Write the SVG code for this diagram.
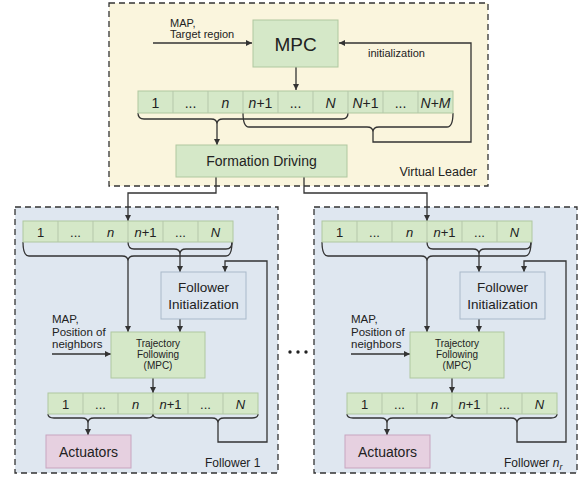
<svg xmlns="http://www.w3.org/2000/svg" width="579" height="479" viewBox="0 0 579 479">
<style>
text{font-family:"Liberation Sans",Arial,sans-serif;fill:#222}
.cont{stroke:#333;stroke-width:1.3;stroke-dasharray:6 4}
.green{fill:#d5e8c8;stroke:#afc8a0;stroke-width:1}
.sep{stroke:#b5c7aa;stroke-width:1}
.fi{fill:#dce5ef;stroke:#a9b9ca;stroke-width:1}
.act{fill:#e6d0e0;stroke:#c8a5bf;stroke-width:1}
.ln{fill:none;stroke:#333;stroke-width:1.3}
.arr{fill:none;stroke:#333;stroke-width:1.3;marker-end:url(#ah)}
.cell{font-size:14px;text-anchor:middle}
.cellf{font-size:13px;text-anchor:middle}
.it{font-style:italic}
.c{text-anchor:middle}
</style>
<defs>
<marker id="ah" viewBox="0 0 10 10" refX="10" refY="5" markerWidth="6" markerHeight="6" markerUnits="userSpaceOnUse" orient="auto">
<path d="M0 0 L10 5 L0 10 Z" fill="#333"/>
</marker>
</defs>

<!-- Virtual leader container -->
<g id="virtual-leader">
<rect class="cont" x="109" y="3" width="379" height="183" fill="#faf5dd"/>
<text x="477" y="176" font-size="12.5" text-anchor="end">Virtual Leader</text>
</g>

<!-- Followers containers -->
<g id="follower-1">
<rect class="cont" x="15" y="207" width="263" height="266" fill="#dfe7f0"/>
<text x="205" y="467" font-size="12">Follower 1</text>
</g>
<g id="follower-nr">
<rect class="cont" x="314" y="207" width="263" height="266" fill="#dfe7f0"/>
<text x="504" y="467" font-size="12">Follower <tspan class="it">n</tspan><tspan class="it" font-size="9" dy="3">r</tspan></text>
</g>

<g id="dots">
<circle cx="290" cy="352" r="1.7" fill="#222"/>
<circle cx="298" cy="352" r="1.7" fill="#222"/>
<circle cx="306" cy="352" r="1.7" fill="#222"/>
</g>

<!-- Connectors -->
<g id="connectors">
<path class="arr" d="M153 43 H252"/>
<path class="arr" d="M296 67 V90"/>
<path class="ln" d="M138 113 Q138 119 144 119 H211 Q217 119 217 124 Q217 119 223 119 H342 Q348 119 348 113"/>
<path class="arr" d="M217 124 V145"/>
<path class="ln" d="M243 113 Q243 127 249 127 H367 Q373 127 373 132 Q373 127 379 127 H447 Q453 127 453 113"/>
<path class="arr" d="M373 132 V142 H471 V43 H339"/>
<path class="arr" d="M216 177 V193 H128 V221"/>
<path class="arr" d="M304 177 V193 H427 V221"/>
<g id="connectors-f1">
<path class="ln" d="M23 242 Q23 256 29 256 H122 Q128 256 128 261 Q128 256 134 256 H226 Q232 256 232 242"/>
<path class="arr" d="M128 261 V332"/>
<path class="ln" d="M128 242 Q128 249 134 249 H174 Q180 249 180 254 Q180 249 186 249 H226 Q232 249 232 242"/>
<path class="arr" d="M180 254 V272"/>
<path class="arr" d="M180 319 V332"/>
<path class="arr" d="M52 354 H111"/>
<path class="arr" d="M153 378 V393"/>
<path class="ln" d="M48 414 Q48 418 54 418 H82 Q88 418 88 423 Q88 418 94 418 H147 Q153 418 153 414"/>
<path class="arr" d="M88 423 V435"/>
<path class="ln" d="M153 414 Q153 418 159 418 H212 Q218 418 218 423 Q218 418 224 418 H252 Q258 418 258 414"/>
<path class="arr" d="M218 423 V442 H267 V261 H225 V272"/>
</g>
<g id="connectors-fnr" transform="translate(299 0)">
<path class="ln" d="M23 242 Q23 256 29 256 H122 Q128 256 128 261 Q128 256 134 256 H226 Q232 256 232 242"/>
<path class="arr" d="M128 261 V332"/>
<path class="ln" d="M128 242 Q128 249 134 249 H174 Q180 249 180 254 Q180 249 186 249 H226 Q232 249 232 242"/>
<path class="arr" d="M180 254 V272"/>
<path class="arr" d="M180 319 V332"/>
<path class="arr" d="M52 354 H111"/>
<path class="arr" d="M153 378 V393"/>
<path class="ln" d="M48 414 Q48 418 54 418 H82 Q88 418 88 423 Q88 418 94 418 H147 Q153 418 153 414"/>
<path class="arr" d="M88 423 V435"/>
<path class="ln" d="M153 414 Q153 418 159 418 H212 Q218 418 218 423 Q218 418 224 418 H252 Q258 418 258 414"/>
<path class="arr" d="M218 423 V442 H267 V261 H225 V272"/>
</g>
</g>

<!-- Leader nodes -->
<g id="map-target">
<text x="170" y="27" font-size="11">MAP,</text>
<text x="170" y="38" font-size="11">Target region</text>
</g>
<g id="init-label"><text x="368" y="57" font-size="11">initialization</text></g>
<g id="mpc">
<rect class="green" x="253" y="20" width="85" height="47"/>
<text x="295.5" y="51" font-size="19" class="c">MPC</text>
</g>
<g id="leader-array">
<rect class="green" x="138" y="91" width="315" height="22"/>
<path class="sep" d="M173 91V113M208 91V113M243 91V113M278 91V113M313 91V113M348 91V113M383 91V113M418 91V113"/>
<text class="cell" x="155.5" y="108">1</text>
<text class="cell" x="190.5" y="108" font-size="11">...</text>
<text class="cell it" x="225.5" y="108">n</text>
<text class="cell" x="260.5" y="108"><tspan class="it">n</tspan>+1</text>
<text class="cell" x="295.5" y="108" font-size="11">...</text>
<text class="cell it" x="330.5" y="108">N</text>
<text class="cell" x="365.5" y="108"><tspan class="it">N</tspan>+1</text>
<text class="cell" x="400.5" y="108" font-size="11">...</text>
<text class="cell" x="435.5" y="108"><tspan class="it">N</tspan>+<tspan class="it">M</tspan></text>
</g>
<g id="formation-driving">
<rect class="green" x="176" y="145" width="171" height="32"/>
<text x="261.5" y="166" font-size="14" class="c">Formation Driving</text>
</g>

<!-- Follower 1 nodes -->
<g id="f1-array">
<rect class="green" x="23" y="221" width="210" height="21"/>
<path class="sep" d="M58 221V242M93 221V242M128 221V242M163 221V242M198 221V242"/>
<text class="cellf" x="40.5" y="237">1</text>
<text class="cellf" x="75.5" y="237" font-size="11">...</text>
<text class="cellf it" x="110.5" y="237">n</text>
<text class="cellf" x="145.5" y="237"><tspan class="it">n</tspan>+1</text>
<text class="cellf" x="180.5" y="237" font-size="11">...</text>
<text class="cellf it" x="215.5" y="237">N</text>
</g>
<g id="f1-init">
<rect class="fi" x="161" y="272" width="85" height="47"/>
<text x="203.5" y="292" font-size="13.5" class="c">Follower</text>
<text x="203.5" y="309" font-size="13.5" class="c">Initialization</text>
</g>
<g id="f1-map">
<text x="52" y="323" font-size="11.5">MAP,</text>
<text x="52" y="336" font-size="11.5">Position of</text>
<text x="52" y="348" font-size="11.5">neighbors</text>
</g>
<g id="f1-traj">
<rect class="green" x="111" y="332" width="94" height="46"/>
<text x="158" y="347" font-size="10" class="c">Trajectory</text>
<text x="158" y="358" font-size="10" class="c">Following</text>
<text x="158" y="369" font-size="10" class="c">(MPC)</text>
</g>
<g id="f1-out-array">
<rect class="green" x="48" y="393" width="210" height="21"/>
<path class="sep" d="M83 393V414M118 393V414M153 393V414M188 393V414M223 393V414"/>
<text class="cellf" x="65.5" y="409">1</text>
<text class="cellf" x="100.5" y="409" font-size="11">...</text>
<text class="cellf it" x="135.5" y="409">n</text>
<text class="cellf" x="170.5" y="409"><tspan class="it">n</tspan>+1</text>
<text class="cellf" x="205.5" y="409" font-size="11">...</text>
<text class="cellf it" x="240.5" y="409">N</text>
</g>
<g id="f1-actuators">
<rect class="act" x="46" y="435" width="85" height="33"/>
<text x="88.5" y="457" font-size="14" class="c">Actuators</text>
</g>

<!-- Follower n_r nodes -->
<g id="fnr-array" transform="translate(299 0)">
<rect class="green" x="23" y="221" width="210" height="21"/>
<path class="sep" d="M58 221V242M93 221V242M128 221V242M163 221V242M198 221V242"/>
<text class="cellf" x="40.5" y="237">1</text>
<text class="cellf" x="75.5" y="237" font-size="11">...</text>
<text class="cellf it" x="110.5" y="237">n</text>
<text class="cellf" x="145.5" y="237"><tspan class="it">n</tspan>+1</text>
<text class="cellf" x="180.5" y="237" font-size="11">...</text>
<text class="cellf it" x="215.5" y="237">N</text>
</g>
<g id="fnr-init" transform="translate(299 0)">
<rect class="fi" x="161" y="272" width="85" height="47"/>
<text x="203.5" y="292" font-size="13.5" class="c">Follower</text>
<text x="203.5" y="309" font-size="13.5" class="c">Initialization</text>
</g>
<g id="fnr-map" transform="translate(299 0)">
<text x="52" y="323" font-size="11.5">MAP,</text>
<text x="52" y="336" font-size="11.5">Position of</text>
<text x="52" y="348" font-size="11.5">neighbors</text>
</g>
<g id="fnr-traj" transform="translate(299 0)">
<rect class="green" x="111" y="332" width="94" height="46"/>
<text x="158" y="347" font-size="10" class="c">Trajectory</text>
<text x="158" y="358" font-size="10" class="c">Following</text>
<text x="158" y="369" font-size="10" class="c">(MPC)</text>
</g>
<g id="fnr-out-array" transform="translate(299 0)">
<rect class="green" x="48" y="393" width="210" height="21"/>
<path class="sep" d="M83 393V414M118 393V414M153 393V414M188 393V414M223 393V414"/>
<text class="cellf" x="65.5" y="409">1</text>
<text class="cellf" x="100.5" y="409" font-size="11">...</text>
<text class="cellf it" x="135.5" y="409">n</text>
<text class="cellf" x="170.5" y="409"><tspan class="it">n</tspan>+1</text>
<text class="cellf" x="205.5" y="409" font-size="11">...</text>
<text class="cellf it" x="240.5" y="409">N</text>
</g>
<g id="fnr-actuators" transform="translate(299 0)">
<rect class="act" x="46" y="435" width="85" height="33"/>
<text x="88.5" y="457" font-size="14" class="c">Actuators</text>
</g>
</svg>
